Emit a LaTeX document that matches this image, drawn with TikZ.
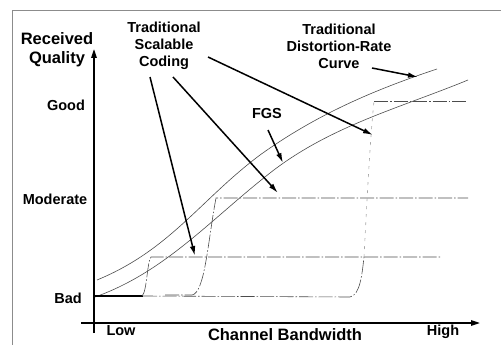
\documentclass[tikz,border=0pt]{standalone}
\usepackage{fontspec}
\setmainfont{Liberation Sans}
\usetikzlibrary{arrows.meta}
\begin{document}
\begin{tikzpicture}[x=1pt,y=-1pt,
  lbl/.style={font=\bfseries\fontsize{14.5}{17}\selectfont, inner sep=0pt, align=center},
  axlbl/.style={font=\bfseries\fontsize{16.5}{19}\selectfont, inner sep=0pt, align=center},
  axisline/.style={line width=1.6pt, -{Triangle[length=9pt,width=5.5pt]}},
  ptr/.style={line width=1.5pt, -{Latex[length=10pt,width=5.5pt]}},
  rdcurve/.style={line width=0.6pt, draw=black!70},
  stepc/.style={line width=0.6pt, draw=black!70, dash pattern=on 14pt off 2pt on 1.5pt off 2pt},
  faintc/.style={line width=0.6pt, draw=black!35, dash pattern=on 3pt off 5pt},
  framel/.style={line width=0.7pt, draw=black!45}]
\useasboundingbox (0,0) rectangle (501,345);
% scan frame
\coordinate (f1) at (12,10);
\coordinate (f2) at (501,10);
\coordinate (f3) at (12,345);
\draw[framel] (f3) -- (f1) -- (f2);
% axes
\coordinate (yb) at (94,333);
\coordinate (yt) at (94,49);
\coordinate (xl) at (81,323);
\coordinate (xr) at (480,323);
\draw[axisline] (yb) -- (yt);
\draw[axisline] (xl) -- (xr);
% axis labels
\node[axlbl] (rq) at (57,50) {Received\\Quality};
\node[axlbl] (cb) at (285,335) {Channel Bandwidth};
\node[lbl] (good) at (66,105) {Good};
\node[lbl] (mod) at (55,199) {Moderate};
\node[lbl] (bad) at (68,298) {Bad};
\node[lbl] (low) at (121,331) {Low};
\node[lbl] (high) at (443,332) {High};
% distortion-rate and FGS curves
\draw[rdcurve] (97,280) .. controls (170,250) and (200,200) .. (260,155)
  .. controls (320,112) and (380,88) .. (437,69);
\draw[rdcurve] (95,297) .. controls (165,272) and (210,220) .. (270,173)
  .. controls (330,126) and (400,108) .. (468,80);
% bad level thick part
\coordinate (b0) at (94,296);
\coordinate (b1) at (143,296);
\draw[line width=1.6pt] (b0) -- (b1);
% traditional scalable step curves
\draw[stepc] (142,296) .. controls (147,292) and (147,262) .. (151,257) -- (440,257);
\draw[stepc] (165,295) -- (192,295) .. controls (205,293) and (208,240) .. (216,198) -- (468,198);
\draw[stepc] (143,296) -- (350,297) .. controls (360,295) and (362,275) .. (364,257);
\draw[faintc] (364,257) .. controls (367,200) and (370,140) .. (374,101);
\draw[stepc] (374,101) -- (468,101);
% labels with pointers
\node[lbl] (tsc) at (164,46) {Traditional\\Scalable\\Coding};
\node[lbl] (tdr) at (339,46) {Traditional\\Distortion-Rate\\Curve};
\node[lbl] (fgs) at (267,114) {FGS};
\coordinate (s1) at (150,77);
\coordinate (e1) at (195,256);
\coordinate (s2) at (173,77);
\coordinate (e2) at (278,193);
\coordinate (s3) at (208,57);
\coordinate (e3) at (373,135);
\coordinate (s4) at (372,68);
\coordinate (e4) at (418,77);
\coordinate (s5) at (268,130);
\coordinate (e5) at (283,163);
\draw[ptr] (s1) -- (e1);
\draw[ptr] (s2) -- (e2);
\draw[ptr] (s3) -- (e3);
\draw[ptr] (s4) -- (e4);
\draw[ptr] (s5) -- (e5);
\end{tikzpicture}
\end{document}
